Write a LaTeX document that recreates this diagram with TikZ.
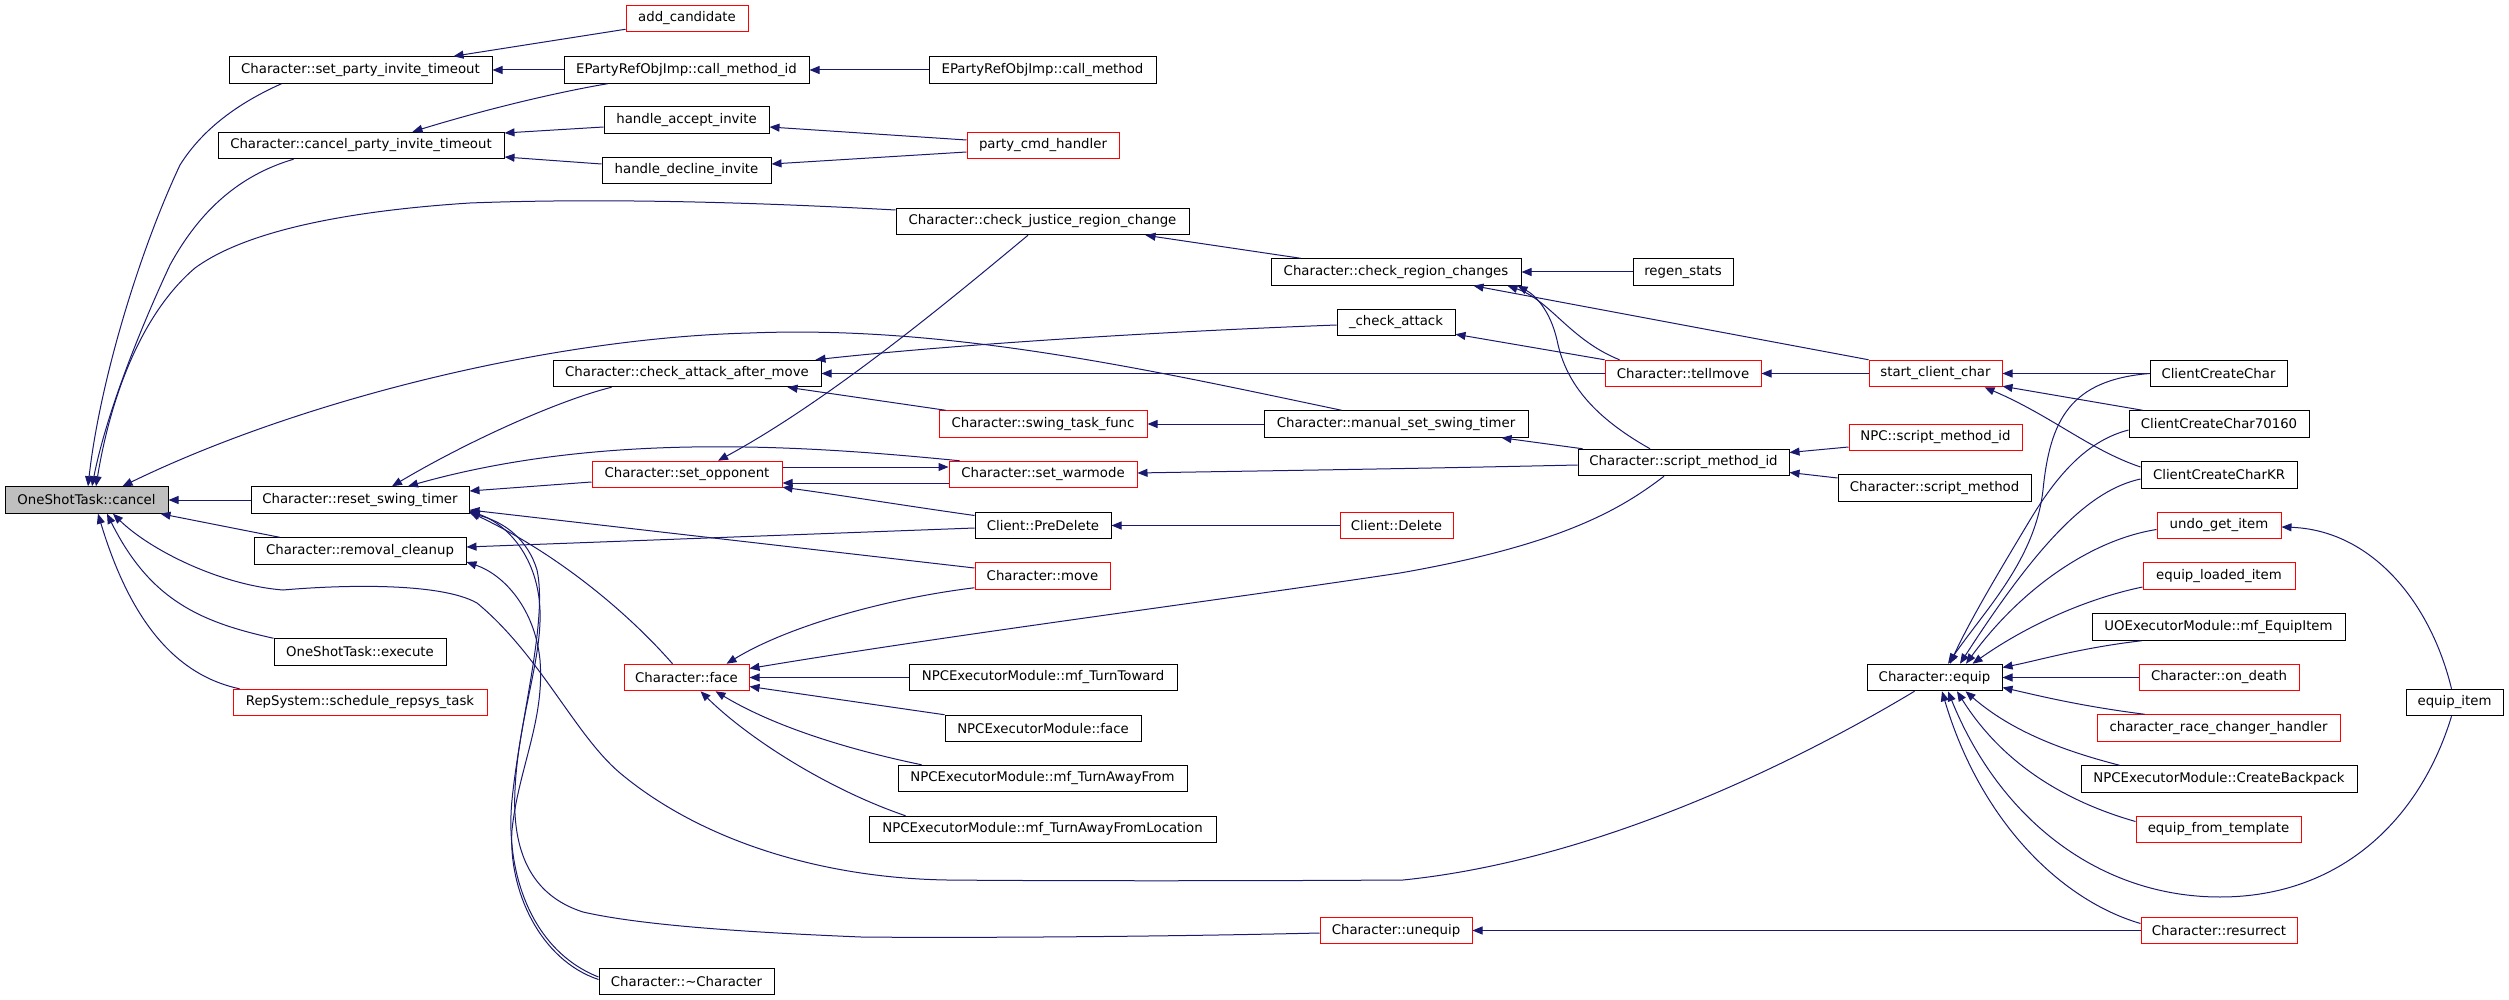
\documentclass[tikz,border=0pt]{standalone}
\usepackage{fontspec}
\setmainfont{DejaVu Sans}
\usetikzlibrary{arrows.meta}
\definecolor{edgeblue}{HTML}{191970}
\definecolor{boxred}{HTML}{FF0000}
\definecolor{cancelgray}{HTML}{BFBFBF}
\begin{document}
\begin{tikzpicture}[x=1pt,y=-1pt,
  box/.style={draw=black, line width=1pt, rectangle, inner sep=0pt, minimum height=26.5pt, fill=white, font=\fontsize{13.3}{15}\selectfont},
  redbox/.style={box, draw=boxred},
  edge/.style={draw=edgeblue, line width=1pt, -{Triangle[length=10pt,width=8pt]}}]
\path[fill=white, use as bounding box] (0,0) rectangle (2509,1000);
% nodes
\node[box, fill=cancelgray, minimum width=163] (cancel) at (86.5,500) {OneShotTask::cancel};
\node[box, minimum width=263] (setparty) at (360.5,70) {Character::set\_party\_invite\_timeout};
\node[redbox, minimum width=122] (addcand) at (687,18.5) {add\_candidate};
\node[box, minimum width=245] (cmid) at (686.5,70) {EPartyRefObjImp::call\_method\_id};
\node[box, minimum width=227] (cm) at (1042.5,70) {EPartyRefObjImp::call\_method};
\node[box, minimum width=286] (cancelparty) at (361,145.5) {Character::cancel\_party\_invite\_timeout};
\node[box, minimum width=165] (accept) at (686.5,120) {handle\_accept\_invite};
\node[box, minimum width=169] (decline) at (686.5,170.5) {handle\_decline\_invite};
\node[redbox, minimum width=152] (party) at (1043,145.5) {party\_cmd\_handler};
\node[box, minimum width=293] (justice) at (1042.5,221.5) {Character::check\_justice\_region\_change};
\node[box, minimum width=250] (region) at (1396,272) {Character::check\_region\_changes};
\node[box, minimum width=100] (regen) at (1683,272) {regen\_stats};
\node[box, minimum width=118] (chkatt) at (1396,322.5) {\_check\_attack};
\node[box, minimum width=268] (cam) at (687,373.5) {Character::check\_attack\_after\_move};
\node[redbox, minimum width=156] (tellmove) at (1683,373.5) {Character::tellmove};
\node[redbox, minimum width=133] (scc) at (1935.5,373.5) {start\_client\_char};
\node[box, minimum width=137] (cc) at (2218.5,373.5) {ClientCreateChar};
\node[box, minimum width=180] (cc7) at (2219,424) {ClientCreateChar70160};
\node[box, minimum width=156] (cckr) at (2219,475) {ClientCreateCharKR};
\node[box, minimum width=264] (mssw) at (1396,424) {Character::manual\_set\_swing\_timer};
\node[redbox, minimum width=208] (stf) at (1043,424) {Character::swing\_task\_func};
\node[box, minimum width=211] (smid) at (1683.5,462.5) {Character::script\_method\_id};
\node[redbox, minimum width=173] (npcsmid) at (1935.5,437.5) {NPC::script\_method\_id};
\node[box, minimum width=193] (sm) at (1934.5,488) {Character::script\_method};
\node[redbox, minimum width=190] (setopp) at (687,474.5) {Character::set\_opponent};
\node[redbox, minimum width=188] (warm) at (1043,474.5) {Character::set\_warmode};
\node[box, minimum width=218] (rst) at (360,500) {Character::reset\_swing\_timer};
\node[box, minimum width=212] (rc) at (360,551) {Character::removal\_cleanup};
\node[box, minimum width=172] (exe) at (360,652) {OneShotTask::execute};
\node[redbox, minimum width=254] (rep) at (360,702.5) {RepSystem::schedule\_repsys\_task};
\node[box, minimum width=175] (dtor) at (686.5,981.5) {Character::\textasciitilde Character};
\node[box, minimum width=136] (pred) at (1043,525.5) {Client::PreDelete};
\node[redbox, minimum width=135] (move) at (1042.5,576) {Character::move};
\node[redbox, minimum width=125] (face) at (686.5,677.5) {Character::face};
\node[box, minimum width=268] (tt) at (1043,677.5) {NPCExecutorModule::mf\_TurnToward};
\node[box, minimum width=196] (nface) at (1043,728.5) {NPCExecutorModule::face};
\node[box, minimum width=289] (taf) at (1042.5,778.5) {NPCExecutorModule::mf\_TurnAwayFrom};
\node[box, minimum width=347] (tafl) at (1042.5,829.5) {NPCExecutorModule::mf\_TurnAwayFromLocation};
\node[redbox, minimum width=113] (del) at (1396.5,525.5) {Client::Delete};
\node[redbox, minimum width=152] (uneq) at (1396,930.5) {Character::unequip};
\node[box, minimum width=135] (equip) at (1934.5,677.5) {Character::equip};
\node[redbox, minimum width=124] (undo) at (2219,525.5) {undo\_get\_item};
\node[redbox, minimum width=152] (eli) at (2219,576) {equip\_loaded\_item};
\node[box, minimum width=253] (uoe) at (2218.5,627) {UOExecutorModule::mf\_EquipItem};
\node[redbox, minimum width=160] (death) at (2219,677.5) {Character::on\_death};
\node[redbox, minimum width=243] (race) at (2218.5,728) {character\_race\_changer\_handler};
\node[box, minimum width=276] (cbp) at (2219,779) {NPCExecutorModule::CreateBackpack};
\node[redbox, minimum width=165] (eft) at (2218.5,829.5) {equip\_from\_template};
\node[redbox, minimum width=156] (res) at (2219,930.5) {Character::resurrect};
\node[box, minimum width=97] (eitem) at (2454.5,702.5) {equip\_item};
% edges (caller -> callee)
\draw[edge] ([yshift=3pt]addcand.south west) -- ([xshift=-39pt]setparty.north east);
\draw[edge] (cmid.west) -- (setparty.east);
\draw[edge] (cm.west) -- (cmid.east);
\draw[edge] ([xshift=44pt]cmid.south west) .. controls (570,90) and (500,105) .. ([xshift=-92pt]cancelparty.north east);
\draw[edge] ([yshift=-7pt]accept.west) -- ([yshift=12.5pt]cancelparty.east);
\draw[edge] ([yshift=6.5pt]decline.west) -- ([yshift=-11.5pt]cancelparty.east);
\draw[edge] ([yshift=5.5pt]party.west) -- ([yshift=-7pt]accept.east);
\draw[edge] ([yshift=-6.5pt]party.west) -- ([yshift=6.5pt]decline.east);
\draw[edge] ([xshift=53pt]setparty.south west) .. controls (245,100) and (205,125) .. (180,165) .. controls (140,250) and (100,380) .. ([xshift=1.5pt]cancel.north);
\draw[edge] ([xshift=76pt]cancelparty.south west) .. controls (240,175) and (200,210) .. (170,265) .. controls (135,340) and (105,420) .. ([xshift=5.5pt]cancel.north);
\draw[edge] ([yshift=11.5pt]justice.west) .. controls (750,202) and (600,198) .. (470,203) .. controls (330,212) and (240,235) .. (195,268) .. controls (140,315) and (110,400) .. ([xshift=9.5pt]cancel.north);
\draw[edge] ([xshift=78pt]mssw.north west) .. controls (1150,370) and (950,325) .. (750,333) .. controls (550,338) and (300,400) .. ([xshift=-46pt]cancel.north east);
\draw[edge] (rst.west) -- (cancel.east);
\draw[edge] ([xshift=26pt]rc.north west) -- ([xshift=-8pt]cancel.south east);
\draw[edge] (exe.north west) .. controls (200,622) and (150,600) .. ([xshift=20.5pt]cancel.south);
\draw[edge] ([xshift=7pt]rep.north west) .. controls (175,675) and (130,620) .. ([xshift=11.5pt]cancel.south);
\draw[edge] ([xshift=48pt]equip.south west) .. controls (1800,760) and (1600,860) .. (1403,880) .. controls (1250,881) and (1050,881) .. (947,880) .. controls (820,878) and (700,840) .. (620,773) .. controls (575,735) and (540,655) .. (477,603) .. controls (440,582) and (340,585) .. (283,590) .. controls (220,585) and (150,550) .. ([xshift=26.5pt]cancel.south);
\draw[edge] ([xshift=59pt]cam.south west) .. controls (560,400) and (470,440) .. ([xshift=32pt]rst.north);
\draw[edge] ([xshift=11pt]warm.north west) .. controls (800,445) and (600,432) .. ([xshift=48pt]rst.north);
\draw[edge] ([yshift=-7.5pt]setopp.west) -- ([yshift=9pt]rst.east);
\draw[edge] ([yshift=8pt]move.west) -- ([yshift=-10pt]rst.east);
\draw[edge] ([xshift=49pt]face.north west) .. controls (630,615) and (560,555) .. ([yshift=-12pt]rst.east);
\draw[edge] ([yshift=4.5pt]dtor.west) .. controls (530,950) and (505,870) .. (512,800) .. controls (520,720) and (548,620) .. (537,570) .. controls (528,540) and (505,522) .. ([yshift=-13pt]rst.east);
\draw[edge] ([yshift=2pt]dtor.west) .. controls (540,960) and (508,890) .. (512,830) .. controls (518,770) and (545,720) .. (540,660) .. controls (535,610) and (505,575) .. ([yshift=-11pt]rc.east);
\draw[edge] ([yshift=-2.5pt]uneq.west) .. controls (1150,937) and (950,938) .. (861,937) .. controls (740,932) and (640,925) .. (583,912) .. controls (530,895) and (512,850) .. (515,790) .. controls (518,720) and (542,660) .. (540,610) .. controls (538,560) and (510,525) .. ([yshift=-11pt]rst.east);
\draw[edge] ([yshift=-2.5pt]pred.west) -- ([yshift=4pt]rc.east);
\draw[edge] ([xshift=-14.5pt]justice.south) .. controls (950,300) and (830,400) .. ([xshift=31pt]setopp.north);
\draw[edge] ([xshift=30pt]region.north west) -- ([xshift=-44pt]justice.south east);
\draw[edge] (regen.west) -- (region.east);
\draw[edge] (scc.north west) -- ([xshift=-48pt]region.south east);
\draw[edge] ([xshift=15pt]tellmove.north west) .. controls (1570,340) and (1550,300) .. ([xshift=-14pt]region.south east);
\draw[edge] ([xshift=-33.5pt]smid.north) .. controls (1590,415) and (1565,380) .. (1557,340) .. controls (1550,310) and (1535,295) .. ([xshift=-4pt]region.south east);
\draw[edge] ([yshift=-2.5pt]chkatt.west) .. controls (1150,332) and (950,345) .. ([xshift=-6pt]cam.north east);
\draw[edge] (tellmove.west) -- (cam.east);
\draw[edge] (tellmove.north west) -- ([yshift=2pt]chkatt.south east);
\draw[edge] ([xshift=7pt]stf.north west) -- ([xshift=-34pt]cam.south east);
\draw[edge] (mssw.west) -- (stf.east);
\draw[edge] ([xshift=5pt]smid.north west) -- ([xshift=-27pt]mssw.south east);
\draw[edge] ([yshift=-2.5pt]smid.west) .. controls (1400,469) and (1250,471) .. ([yshift=1.5pt]warm.east);
\draw[edge] ([yshift=7.5pt]setopp.east) -- ([yshift=7.5pt]warm.west);
\draw[edge] ([yshift=-8.5pt]warm.west) -- ([yshift=-8.5pt]setopp.east);
\draw[edge] ([yshift=-3.75pt]pred.north west) .. controls (900,505) and (840,495) .. ([yshift=1pt]setopp.south east);
\draw[edge] (del.west) -- (pred.east);
\draw[edge] ([yshift=2pt]move.south west) .. controls (890,598) and (790,625) .. ([xshift=-23pt]face.north east);
\draw[edge] ([xshift=-19.5pt]smid.south) .. controls (1620,510) and (1560,545) .. (1400,573) .. controls (1200,603) and (950,635) .. ([yshift=9pt]face.east);
\draw[edge] (tt.west) -- (face.east);
\draw[edge] (nface.north west) -- ([yshift=-9pt]face.east);
\draw[edge] ([xshift=24pt]taf.north west) .. controls (860,752) and (780,730) .. ([xshift=-34pt]face.south east);
\draw[edge] ([xshift=37pt]tafl.north west) .. controls (830,790) and (750,740) .. ([xshift=-49pt]face.south east);
\draw[edge] (scc.west) -- (tellmove.east);
\draw[edge] (cc.west) -- (scc.east);
\draw[edge] ([xshift=14pt]cc7.north west) -- ([yshift=1pt]scc.south east);
\draw[edge] ([yshift=8pt]cckr.west) .. controls (2090,450) and (2050,415) .. ([xshift=-18pt]scc.south east);
\draw[edge] ([yshift=-9.5pt]npcsmid.west) -- ([yshift=10pt]smid.east);
\draw[edge] ([yshift=10pt]sm.west) -- ([yshift=-10pt]smid.east);
\draw[edge] (cc.west) .. controls (2070,380) and (2050,420) .. (2043,490) .. controls (2035,560) and (1985,610) .. ([xshift=13.5pt]equip.north);
\draw[edge] ([yshift=-6pt]cc7.west) .. controls (2090,440) and (2060,470) .. (2030,520) .. controls (2000,570) and (1970,620) .. ([xshift=15.5pt]equip.north);
\draw[edge] ([yshift=-4pt]cckr.west) .. controls (2090,490) and (2040,540) .. ([xshift=25.5pt]equip.north);
\draw[edge] ([yshift=-4pt]undo.west) .. controls (2090,540) and (2020,590) .. ([xshift=31.5pt]equip.north);
\draw[edge] ([yshift=-11pt]eli.west) .. controls (2080,600) and (2020,630) .. ([xshift=-30pt]equip.north east);
\draw[edge] ([xshift=50pt]uoe.south west) .. controls (2080,648) and (2040,660) .. ([yshift=10pt]equip.east);
\draw[edge] (death.west) -- (equip.east);
\draw[edge] ([xshift=48pt]race.north west) .. controls (2080,706) and (2040,696) .. ([yshift=-10pt]equip.east);
\draw[edge] ([xshift=39pt]cbp.north west) .. controls (2060,750) and (2010,730) .. ([xshift=-37pt]equip.south east);
\draw[edge] ([yshift=8pt]eft.west) .. controls (2060,800) and (2000,760) .. ([xshift=22.5pt]equip.south);
\draw[edge] ([xshift=-3pt]eitem.south) .. controls (2420,820) and (2340,897) .. (2220,897) .. controls (2100,897) and (2000,820) .. ([xshift=13.5pt]equip.south);
\draw[edge] ([yshift=7pt]res.west) .. controls (2060,900) and (1980,820) .. ([xshift=7.5pt]equip.south);
\draw[edge] ([xshift=-3pt]eitem.north) .. controls (2430,600) and (2370,530) .. ([yshift=-1.5pt]undo.east);
\draw[edge] (res.west) -- (uneq.east);
\end{tikzpicture}
\end{document}
